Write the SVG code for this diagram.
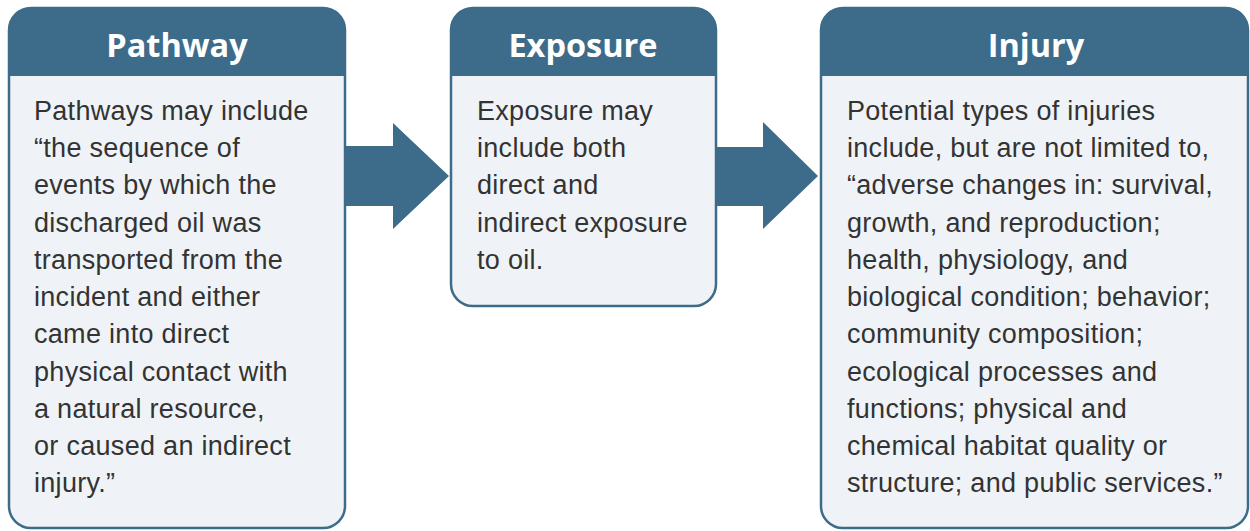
<svg xmlns="http://www.w3.org/2000/svg" width="1250" height="531" viewBox="0 0 1250 531">
<defs>
<style>
.box{fill:#eff3f7;stroke:#3d6b8a;stroke-width:2.5}
.hdr{fill:#3d6b8a}
.title{font-family:"Open Sans","Liberation Sans",sans-serif;font-weight:bold;font-size:32.5px;fill:#ffffff;text-anchor:middle}
.body{font-family:"Liberation Sans","Arial",sans-serif;font-size:27px;letter-spacing:0.3px;fill:#333333}
.arrow{fill:#3d6b8a}
</style>
</defs>
<rect width="1250" height="531" fill="#ffffff"/>
<g id="pathway">
<rect class="box" x="9" y="8" width="336" height="520" rx="22"/>
<path class="hdr" d="M9,76 V30 A22,22 0 0 1 31,8 H323 A22,22 0 0 1 345,30 V76 Z"/>
<text class="title" x="177" y="57">Pathway</text>
<text class="body">
<tspan x="34" y="120">Pathways may include</tspan>
<tspan x="34" y="157">“the sequence of</tspan>
<tspan x="34" y="194">events by which the</tspan>
<tspan x="34" y="232">discharged oil was</tspan>
<tspan x="34" y="269">transported from the</tspan>
<tspan x="34" y="306">incident and either</tspan>
<tspan x="34" y="343">came into direct</tspan>
<tspan x="34" y="381">physical contact with</tspan>
<tspan x="34" y="418">a natural resource,</tspan>
<tspan x="34" y="455">or caused an indirect</tspan>
<tspan x="34" y="492">injury.”</tspan>
</text>
</g>
<g id="exposure">
<rect class="box" x="451" y="8" width="265" height="298" rx="22"/>
<path class="hdr" d="M451,76 V30 A22,22 0 0 1 473,8 H694 A22,22 0 0 1 716,30 V76 Z"/>
<text class="title" x="583" y="57">Exposure</text>
<text class="body">
<tspan x="477" y="120">Exposure may</tspan>
<tspan x="477" y="157">include both</tspan>
<tspan x="477" y="194">direct and</tspan>
<tspan x="477" y="232">indirect exposure</tspan>
<tspan x="477" y="269">to oil.</tspan>
</text>
</g>
<g id="injury">
<rect class="box" x="821" y="8" width="427" height="520" rx="22"/>
<path class="hdr" d="M821,76 V30 A22,22 0 0 1 843,8 H1226 A22,22 0 0 1 1248,30 V76 Z"/>
<text class="title" x="1036" y="57">Injury</text>
<text class="body">
<tspan x="847" y="120">Potential types of injuries</tspan>
<tspan x="847" y="157">include, but are not limited to,</tspan>
<tspan x="847" y="194">“adverse changes in: survival,</tspan>
<tspan x="847" y="232">growth, and reproduction;</tspan>
<tspan x="847" y="269">health, physiology, and</tspan>
<tspan x="847" y="306">biological condition; behavior;</tspan>
<tspan x="847" y="343">community composition;</tspan>
<tspan x="847" y="381">ecological processes and</tspan>
<tspan x="847" y="418">functions; physical and</tspan>
<tspan x="847" y="455">chemical habitat quality or</tspan>
<tspan x="847" y="492">structure; and public services.”</tspan>
</text>
</g>
<g id="connectors">
<polygon class="arrow" points="346,146 393,146 393,123 449,176 393,229 393,206 346,206"/>
<polygon class="arrow" points="717,147 763,147 763,122 818,176 763,229 763,206 717,206"/>
</g>
</svg>
